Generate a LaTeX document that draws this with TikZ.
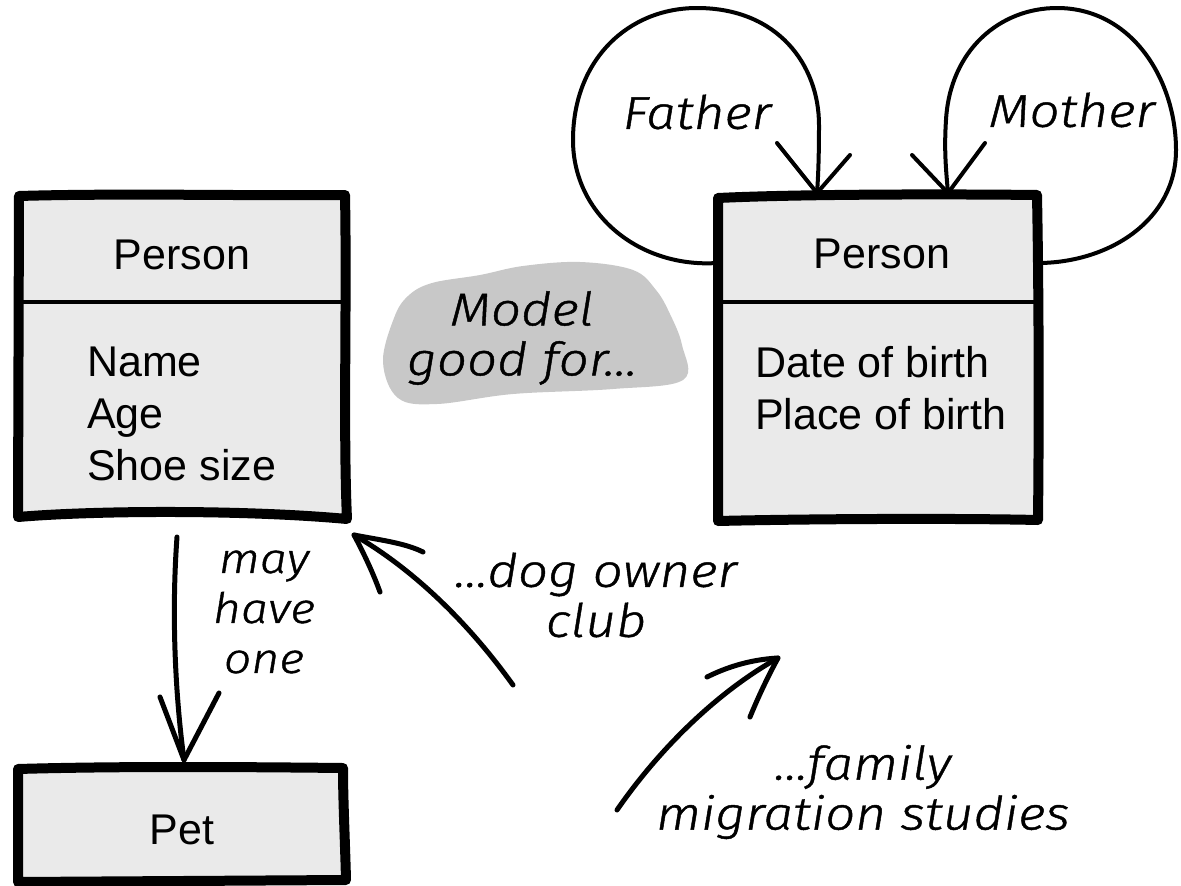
\documentclass[tikz,border=0pt]{standalone}
\usepackage{fontspec}
\setmainfont{Liberation Sans}
\newfontfamily\hand[FakeStretch=1.15, FakeBold=1, UprightFont={* Light}, ItalicFont={* Light Italic}]{Fira Sans}
\definecolor{boxfill}{RGB}{234,234,234}
\definecolor{cloud}{RGB}{200,200,200}
\tikzset{
  boxline/.style={line width=10pt, line join=round, line cap=round, fill=boxfill},
  divider/.style={line width=4pt},
  label/.style={inner sep=0pt, font=\fontsize{43}{52}\selectfont},
  attrs/.style={label, align=left, anchor=west},
  note/.style={inner sep=0pt, align=center, font=\hand\itshape\fontsize{46}{50}\selectfont},
  pen/.style={line width=5pt, line cap=round, line join=round},
  loopline/.style={line width=4pt, line cap=round, line join=round},
}
\begin{document}
\begin{tikzpicture}[x=1pt,y=-1pt]
\useasboundingbox (0,0) rectangle (1181,886);

% highlight behind the central remark
\fill[cloud] plot[smooth cycle, tension=0.6] coordinates {
  (383,362) (394,318) (408,296) (432,283) (480,275) (523,266) (580,262)
  (633,270) (656,290) (670,314) (682,345) (683,380) (613,389) (513,394)
  (437,404) (398,398)};

% left Person entity
\draw[boxline] (19,196) .. controls (120,193) and (250,196) .. (345,195)
  .. controls (347,300) and (343,430) .. (347,519)
  .. controls (250,510) and (100,510) .. (18,517) -- cycle;
\draw[divider] (18,302) -- (345,302);
\node[label] (p1) at (182,255) {Person};
\node[attrs] (p1attr) at (87,414) {Name\\Age\\Shoe size};

% right Person entity
\draw[boxline] (718,198) .. controls (800,194) and (950,194) .. (1037,195)
  .. controls (1039,300) and (1039,430) .. (1038,520)
  .. controls (950,518) and (800,519) .. (718,521) -- cycle;
\draw[divider] (718,302) -- (1038,302);
\node[label] (p2) at (882,254) {Person};
\node[attrs] (p2attr) at (755,388) {Date of birth\\Place of birth};

% Pet entity
\draw[boxline] (18,769) .. controls (120,766) and (250,767) .. (343,768)
  .. controls (343,800) and (345,840) .. (346,880)
  -- (18,882) -- cycle;
\node[label] (pet) at (182,830) {Pet};

% self references of the right entity
\coordinate (fIn) at (817,193);
\coordinate (fOut) at (717,263);
\coordinate (fArmA) at (777,143);
\coordinate (fArmB) at (850,155);
\draw[loopline] (fOut) .. controls (640,268) and (573,215) .. (573,140)
  .. controls (573,60) and (628,8) .. (697,8)
  .. controls (778,8) and (819,65) .. (819,125)
  .. controls (819,160) and (818,180) .. (fIn);
\draw[loopline] (fArmA) -- (fIn) -- (fArmB);
\node[note] (father) at (697,112) {Father};

\coordinate (mIn) at (948,193);
\coordinate (mOut) at (1040,263);
\coordinate (mArmA) at (912,155);
\coordinate (mArmB) at (985,143);
\draw[loopline] (mIn) .. controls (946,170) and (944,150) .. (946,120)
  .. controls (950,50) and (1000,8) .. (1057,8)
  .. controls (1132,8) and (1176,80) .. (1176,150)
  .. controls (1176,220) and (1110,262) .. (mOut);
\draw[loopline] (mArmA) -- (mIn) -- (mArmB);
\node[note] (mother) at (1072,110) {Mother};

% Person to Pet
\coordinate (petFrom) at (177,537);
\coordinate (petTo) at (184,760);
\coordinate (petArmA) at (160,697);
\coordinate (petArmB) at (219,693);
\draw[pen] (petFrom) .. controls (171,620) and (176,700) .. (petTo);
\draw[pen] (petArmA) -- (petTo) -- (petArmB);
\node[note, font=\hand\itshape\fontsize{42}{50}\selectfont] (mayhave) at (264,612) {may\\have\\one};

% remark arrows
\node[note] (model) at (522,338) {Model\\good for...};

\coordinate (dogFrom) at (513,685);
\coordinate (dogTo) at (354,535);
\coordinate (dogArmA) at (380,592);
\coordinate (dogArmB) at (423,552);
\draw[pen] (dogFrom) .. controls (470,625) and (415,570) .. (dogTo);
\draw[pen] (dogArmA) .. controls (372,570) and (362,550) .. (dogTo)
  .. controls (380,540) and (405,543) .. (dogArmB);
\node[note] (dog) at (596,595) {...dog owner\\club};

\coordinate (famFrom) at (617,810);
\coordinate (famTo) at (778,658);
\coordinate (famArmA) at (707,677);
\coordinate (famArmB) at (750,717);
\draw[pen] (famFrom) .. controls (655,755) and (712,695) .. (famTo);
\draw[pen] (famArmA) .. controls (735,663) and (760,659) .. (famTo)
  .. controls (766,680) and (757,700) .. (famArmB);
\node[note] (family) at (863,792) {...family\\migration studies};
\end{tikzpicture}
\end{document}
